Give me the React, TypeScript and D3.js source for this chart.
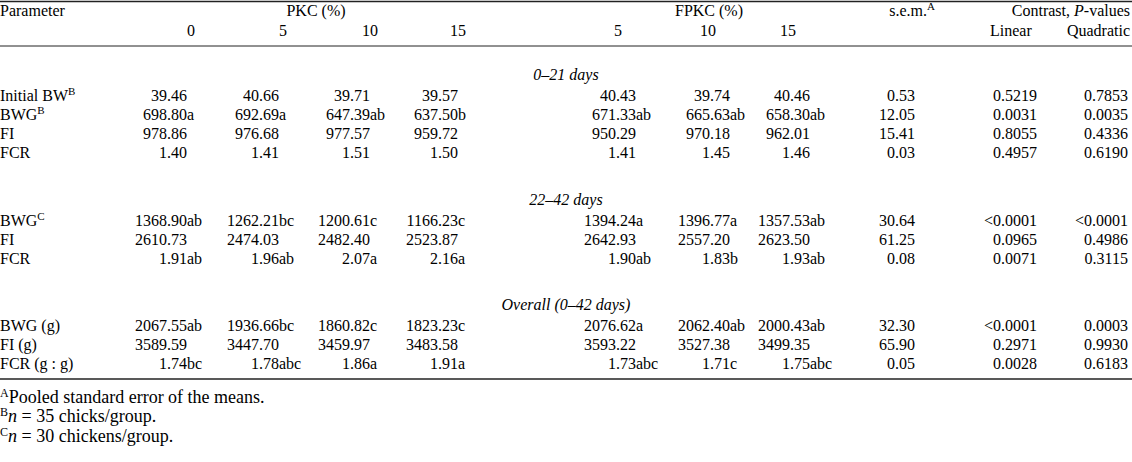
import React from "react";
import * as d3 from "d3";

const W = 1132;
const H = 462;

// table content
const sections = ["0–21 days", "22–42 days", "Overall (0–42 days)"];
const rowNames = ["Initial BW", "BWG", "FI", "FCR", "BWG", "FI", "FCR", "BWG (g)", "FI (g)", "FCR (g : g)"];
const rowSups = ["B", "B", "", "", "C", "", "", "", "", ""];
const rowSection = [0, 0, 0, 0, 1, 1, 1, 2, 2, 2];

const pkcLevels = ["0", "5", "10", "15"];
const fpkcLevels = ["5", "10", "15"];

const pkc0 = ["39.46", "698.80a", "978.86", "1.40", "1368.90ab", "2610.73", "1.91ab", "2067.55ab", "3589.59", "1.74bc"];
const pkc5 = ["40.66", "692.69a", "976.68", "1.41", "1262.21bc", "2474.03", "1.96ab", "1936.66bc", "3447.70", "1.78abc"];
const pkc10 = ["39.71", "647.39ab", "977.57", "1.51", "1200.61c", "2482.40", "2.07a", "1860.82c", "3459.97", "1.86a"];
const pkc15 = ["39.57", "637.50b", "959.72", "1.50", "1166.23c", "2523.87", "2.16a", "1823.23c", "3483.58", "1.91a"];
const fpkc5 = ["40.43", "671.33ab", "950.29", "1.41", "1394.24a", "2642.93", "1.90ab", "2076.62a", "3593.22", "1.73abc"];
const fpkc10 = ["39.74", "665.63ab", "970.18", "1.45", "1396.77a", "2557.20", "1.83b", "2062.40ab", "3527.38", "1.71c"];
const fpkc15 = ["40.46", "658.30ab", "962.01", "1.46", "1357.53ab", "2623.50", "1.93ab", "2000.43ab", "3499.35", "1.75abc"];
const sem = ["0.53", "12.05", "15.41", "0.03", "30.64", "61.25", "0.08", "32.30", "65.90", "0.05"];
const linear = ["0.5219", "0.0031", "0.8055", "0.4957", "<0.0001", "0.0965", "0.0071", "<0.0001", "0.2971", "0.0028"];
const quadratic = ["0.7853", "0.0035", "0.4336", "0.6190", "<0.0001", "0.4986", "0.3115", "0.0003", "0.9930", "0.6183"];

const footSups = ["A", "B", "C"];

const FONT = "'Liberation Serif', 'Times New Roman', serif";
const FS = 16;
const INK = "#000";

export default function App() {
  const treatCols = [pkc0, pkc5, pkc10, pkc15, fpkc5, fpkc10, fpkc15];
  const statCols = [sem, linear, quadratic];

  // right edge of the numeric part of each column
  const treatX = d3.scaleOrdinal<number, number>()
    .domain(d3.range(7))
    .range([187, 279, 370, 458, 636, 730, 810]);
  const statX = d3.scaleOrdinal<number, number>()
    .domain(d3.range(3))
    .range([915, 1037, 1128]);

  const sectionY = d3.scaleOrdinal<number, number>().domain([0, 1, 2]).range([74, 199, 304]);
  const firstRow = rowSection.map((s) => rowSection.indexOf(s));
  const rowY = (i: number) => sectionY(rowSection[i]) + 21 + (i - firstRow[i]) * 19;
  const base = (y: number) => y + 5.5;

  const split = (v: string) => {
    const m = v.match(/^([<\d.]+)([a-z]*)$/);
    return m ? [m[1], m[2]] : [v, ""];
  };

  const sup = (t: string, dy = -6) => (
    <tspan fontSize={11} dy={dy}>{t}</tspan>
  );

  return (
    <svg width={W} height={H} style={{ position: "absolute", left: 0, top: 0, background: "#fff" }}
      fontFamily={FONT} fontSize={FS} fill={INK}>
      <rect width={W} height={H} fill="#fff" />
      {/* rules */}
      <line x1={0} x2={W} y1={1.5} y2={1.5} stroke="#222" strokeWidth={1.5} />
      <line x1={0} x2={W} y1={46} y2={46} stroke="#222" strokeWidth={1} />
      <line x1={0} x2={W} y1={379} y2={379} stroke="#222" strokeWidth={1.5} />

      {/* header */}
      <text x={0} y={base(10)}>Parameter</text>
      <text x={316} y={base(10)} textAnchor="middle">PKC (%)</text>
      <text x={709} y={base(10)} textAnchor="middle">FPKC (%)</text>
      <text x={statX(0) + 20} y={base(10)} textAnchor="end">s.e.m.{sup("A")}</text>
      <text x={W - 2} y={base(10)} textAnchor="end">Contrast, <tspan fontStyle="italic">P</tspan>-values</text>
      {pkcLevels.map((l, i) => (
        <text key={"p" + i} x={treatX(i) + 8} y={base(30)} textAnchor="end">{l}</text>
      ))}
      {fpkcLevels.map((l, i) => (
        <text key={"f" + i} x={treatX(i + 4) - 14} y={base(30)} textAnchor="end">{l}</text>
      ))}
      <text x={990} y={base(30)}>Linear</text>
      <text x={W - 2} y={base(30)} textAnchor="end">Quadratic</text>

      {/* section titles */}
      {sections.map((s, i) => (
        <text key={s} x={W / 2} y={base(sectionY(i))} textAnchor="middle" fontStyle="italic">{s}</text>
      ))}

      {/* rows */}
      {rowNames.map((name, r) => (
        <g key={"r" + r}>
          <text x={0} y={base(rowY(r))}>
            {name}
            {rowSups[r] ? sup(rowSups[r]) : null}
          </text>
          {treatCols.map((col, c) => {
            const [num, letters] = split(col[r]);
            return (
              <g key={c}>
                <text x={treatX(c)} y={base(rowY(r))} textAnchor="end">{num}</text>
                {letters ? <text x={treatX(c)} y={base(rowY(r))}>{letters}</text> : null}
              </g>
            );
          })}
          {statCols.map((col, c) => (
            <text key={"s" + c} x={statX(c)} y={base(rowY(r))} textAnchor="end">{col[r]}</text>
          ))}
        </g>
      ))}

      {/* footnotes */}
      <g fontSize={18}>
        <text x={0} y={base(397)}>
          <tspan fontSize={12} dy={-6}>{footSups[0]}</tspan>
          <tspan dy={6}>Pooled standard error of the means.</tspan>
        </text>
        <text x={0} y={base(416)}>
          <tspan fontSize={12} dy={-6}>{footSups[1]}</tspan>
          <tspan dy={6} fontStyle="italic">n</tspan> = 35 chicks/group.
        </text>
        <text x={0} y={base(436)}>
          <tspan fontSize={12} dy={-6}>{footSups[2]}</tspan>
          <tspan dy={6} fontStyle="italic">n</tspan> = 30 chickens/group.
        </text>
      </g>
    </svg>
  );
}
